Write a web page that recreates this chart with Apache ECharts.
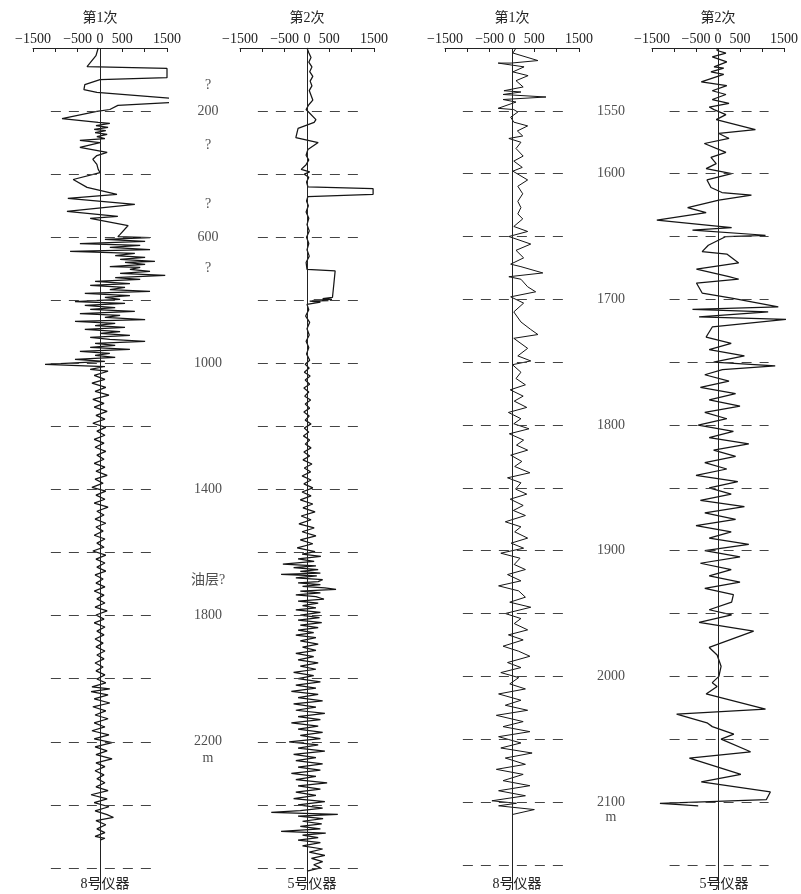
<!DOCTYPE html>
<html><head><meta charset="utf-8">
<script src="https://cdn.jsdelivr.net/npm/echarts@6/dist/echarts.min.js"></script>
<style>html,body{margin:0;padding:0;background:#fff}#c{width:801px;height:894px}</style>
</head><body><div id="c"></div>
<script>
// ---------------- data ----------------
const xTickValues = [-1500, -500, 0, 500, 1500];
const panelTitles = ['第1次', '第2次', '第1次', '第2次'];
const instrumentNames = ['8号仪器', '5号仪器', '8号仪器', '5号仪器'];
const leftDepthRange = [0, 2670];
const rightDepthRange = [1500, 2170];
const leftDashDepths = [200, 400, 600, 800, 1000, 1200, 1400, 1600, 1800, 2000, 2200, 2400, 2600];
const rightDashDepths = [1550, 1600, 1650, 1700, 1750, 1800, 1850, 1900, 1950, 2000, 2050, 2100, 2150];
const dashSpan = [-1100, 1150];
const leftDepthLabels = [[117, '?'], [200, '200'], [310, '?'], [497, '?'], [600, '600'], [698, '?'], [1000, '1000'], [1400, '1400'], [1687, '油层?'], [1800, '1800'], [2200, '2200'], [2252, 'm']];
const rightDepthLabels = [[1550, '1550'], [1600, '1600'], [1700, '1700'], [1800, '1800'], [1900, '1900'], [2000, '2000'], [2100, '2100'], [2112, 'm']];

// trace values: [value, depth]
const run1Instr8 = [[-40,0],[-90,24],[-290,59],[1500,65],[1500,94],[0,100],[-340,116],[-360,132],[-70,141],[1630,160],[1570,173],[400,182],[220,195],[-70,201],[-850,224],[-40,236],[220,239],[-90,246],[180,252],[-130,258],[130,262],[-110,268],[160,274],[-70,281],[110,287],[-450,293],[0,300],[-450,315],[160,331],[-70,341],[-160,353],[-70,369],[-40,385],[0,395],[-600,417],[-290,442],[380,464],[-720,477],[780,496],[-740,518],[400,534],[-220,540],[630,563],[450,591],[400,598],[1120,601],[110,607],[1010,613],[-450,620],[900,626],[220,632],[1120,639],[-670,645],[780,651],[340,658],[1010,664],[450,670],[1230,677],[560,680],[1010,686],[220,693],[900,696],[670,702],[1120,708],[450,715],[1460,721],[340,728],[900,734],[-110,740],[670,747],[-220,753],[560,759],[220,766],[1120,772],[-340,778],[670,785],[110,791],[450,797],[-560,804],[560,810],[-340,816],[340,823],[-220,829],[780,835],[-450,842],[450,848],[110,854],[1010,861],[-560,867],[340,873],[-110,880],[560,886],[-340,892],[450,899],[0,905],[670,911],[-220,918],[220,924],[1010,930],[-110,937],[340,943],[-220,949],[670,956],[-450,962],[220,968],[-110,975],[340,981],[-560,987],[110,994],[-1230,1003],[110,1010],[-220,1019],[180,1025],
[-130,1038],[110,1051],[-180,1063],[130,1076],[-110,1089],[200,1101],[-160,1114],[90,1127],[-130,1139],[160,1152],[-90,1165],[110,1177],[-160,1190],[130,1203],[-70,1215],[110,1228],[-130,1241],[90,1253],[-110,1266],[130,1279],[-70,1291],[90,1304],[-130,1317],[110,1329],[-90,1342],[160,1355],[-110,1367],[70,1380],[-180,1393],[130,1405],[-90,1418],[110,1431],[-130,1443],[180,1456],[-70,1469],[90,1481],[-110,1494],[130,1507],[-90,1519],[70,1532],[-130,1545],[110,1557],[-70,1570],[90,1583],[-160,1595],[130,1608],[-90,1621],[110,1633],[-70,1646],[130,1659],[-110,1671],[70,1684],[-90,1697],[110,1709],[-130,1722],[90,1735],[-70,1747],[110,1760],[-110,1773],[160,1785],[-90,1798],[90,1811],[-130,1823],[110,1836],[-70,1849],[90,1861],[-110,1874],[70,1887],[-90,1899],[110,1912],[-70,1925],[90,1937],[-110,1950],[70,1963],[-90,1975],[110,1988],[-70,2001],[130,2013],[-180,2026],[220,2032],[-200,2041],[180,2051],[-130,2064],[220,2077],[-160,2089],[130,2102],[-110,2115],[180,2127],[-130,2140],[110,2153],[-180,2165],[200,2178],[-130,2191],[270,2203],[-110,2216],[160,2229],[-90,2241],[270,2254],[-90,2267],[110,2279],[-110,2292],[90,2305],[-70,2317],[110,2330],[-90,2343],[180,2355],[-200,2368],[160,2381],[-130,2393],[200,2406],[-110,2419],[160,2431],[300,2440],[-90,2450],[130,2463],[-70,2476],[110,2488],[-110,2500],[110,2506],[0,2512]];

const run2Instr5 = [[0,0],[40,15],[90,30],[40,45],[110,60],[60,75],[130,90],[70,105],[110,120],[50,135],[90,150],[130,165],[40,180],[-20,195],[-20,201],[200,227],[160,236],[-200,255],[-250,284],[250,300],[20,322],[-20,340],[40,355],[-20,370],[-130,385],[60,393],[-60,400],[40,410],[-10,425],[20,440],[20,446],[1480,446],[1480,464],[20,471],[-10,485],[30,500],[-20,520],[40,540],[0,560],[50,580],[-10,600],[40,620],[0,640],[50,660],[-20,680],[0,702],[630,707],[600,750],[570,791],[350,795],[560,797],[150,799],[480,801],[60,803],[300,806],[0,813],
[40,830],[-30,850],[60,870],[0,890],[50,910],[-20,930],[40,950],[-10,970],[60,990],[-40,1003],[50,1015],[-60,1028],[70,1040],[-40,1053],[60,1066],[-70,1078],[40,1091],[-50,1104],[80,1116],[-40,1129],[60,1142],[-70,1154],[50,1167],[-40,1180],[90,1192],[-60,1205],[40,1218],[-80,1230],[60,1243],[-40,1256],[90,1268],[-70,1281],[60,1294],[-90,1306],[110,1319],[-60,1332],[80,1344],[-110,1357],[90,1370],[-70,1382],[130,1395],[-110,1408],[90,1420],[-150,1433],[130,1446],[-90,1458],[180,1471],[-130,1484],[90,1496],[-180,1509],[160,1522],[-110,1534],[200,1547],[-150,1560],[130,1572],[-220,1585],[180,1597],[-110,1605],[310,1612],[-200,1620],[160,1628],[-540,1637],[200,1642],[-300,1648],[250,1654],[-150,1660],[300,1665],[-580,1669],[220,1674],[-250,1680],[350,1686],[250,1692],[-200,1696],[300,1702],[-100,1707],[400,1712],[650,1717],[-150,1722],[300,1728],[-250,1734],[200,1740],[380,1748],[-200,1754],[250,1760],[-100,1768],[200,1775],[-250,1782],[300,1790],[-150,1798],[280,1806],[-200,1814],[330,1822],[-150,1830],[250,1838],[-200,1846],[150,1854],[-250,1862],[200,1870],[-150,1880],[250,1890],[-100,1900],[200,1910],[-250,1920],[150,1930],[-200,1940],[250,1950],[-150,1960],[200,1970],[-300,1980],[150,1990],[-200,2000],[300,2010],[-250,2020],[200,2030],[-350,2040],[250,2050],[-200,2060],[350,2070],[-300,2080],[200,2090],[-250,2100],[400,2110],[-200,2120],[300,2130],[-350,2140],[250,2150],[-200,2160],[350,2170],[-150,2180],[300,2190],[-400,2200],[250,2210],[-200,2220],[400,2230],[-300,2240],[200,2250],[-250,2260],[350,2270],[-200,2280],[300,2290],[-350,2300],[200,2310],[-250,2320],[450,2330],[-200,2340],[300,2350],[-250,2360],[200,2370],[-300,2380],[400,2390],[-200,2400],[350,2410],[-150,2418],[-800,2424],[690,2430],[-200,2436],[360,2444],[-100,2452],[330,2460],[-150,2468],[300,2476],[-580,2484],[420,2490],[-100,2496],[250,2504],[-200,2512],[300,2520],[-100,2530],[350,2540],[50,2550],[400,2560],[100,2570],[350,2580],[150,2590],[300,2600],[0,2610]];

const run1Instr8Deep = [[90,1500],[20,1504],[580,1510],[-20,1512],[-310,1512],[270,1515],[20,1519],[360,1522],[90,1526],[250,1531],[-180,1534],[200,1535],[-200,1537],[760,1539],[-200,1541],[90,1543],[-310,1548],[40,1549],[130,1551],[-30,1555],[40,1559],[350,1562],[120,1566],[240,1570],[-70,1572],[200,1575],[90,1580],[250,1586],[40,1590],[230,1595],[20,1598],[350,1605],[130,1610],[240,1616],[130,1622],[200,1627],[130,1632],[240,1636],[40,1642],[350,1646],[-70,1650],[420,1656],[90,1661],[260,1667],[-30,1672],[200,1674],[690,1679],[-70,1682],[200,1684],[350,1690],[530,1694],[-30,1698],[260,1703],[40,1710],[200,1718],[420,1724],[580,1728],[40,1731],[350,1739],[130,1745],[420,1749],[10,1752],[200,1758],[90,1763],
[300,1768],[-40,1772],[250,1777],[50,1781],[330,1786],[-80,1790],[200,1795],[40,1799],[380,1803],[-60,1807],[260,1812],[100,1816],[350,1820],[-30,1824],[220,1829],[60,1833],[400,1838],[-100,1842],[200,1846],[80,1851],[330,1855],[-40,1859],[250,1864],[30,1868],[300,1872],[-150,1877],[200,1881],[60,1885],[350,1890],[-20,1894],[260,1898],[-250,1902],[180,1906],[50,1911],[300,1915],[-100,1919],[200,1924],[-300,1928],[150,1932],[300,1937],[-50,1941],[420,1945],[-150,1950],[200,1954],[50,1958],[350,1963],[-80,1967],[250,1971],[-200,1976],[150,1980],[400,1984],[-100,1989],[200,1993],[-250,1997],[150,2001],[-50,2006],[300,2010],[-300,2014],[200,2019],[-150,2023],[350,2027],[-350,2031],[250,2036],[-200,2040],[400,2044],[-300,2048],[200,2053],[-250,2057],[450,2061],[-150,2065],[300,2070],[-350,2074],[250,2078],[-200,2083],[400,2087],[-300,2091],[300,2095],[-450,2099],[100,2101],[-300,2103],[500,2106],[0,2110]];

const run2Instr5Deep = [[-20,1500],[-20,1502],[180,1504],[-130,1507],[200,1511],[-90,1515],[130,1516],[-160,1519],[130,1521],[-380,1527],[200,1530],[-130,1534],[180,1537],[-130,1541],[250,1544],[-200,1547],[-90,1549],[180,1553],[-40,1557],[850,1565],[20,1568],[250,1572],[-310,1576],[180,1583],[-160,1587],[-40,1592],[-270,1596],[310,1600],[-250,1605],[-160,1611],[90,1615],[760,1617],[20,1621],[-690,1627],[-270,1631],[-1390,1637],[310,1643],[-580,1645],[1080,1649],[180,1650],[-220,1657],[-360,1662],[200,1664],[470,1671],[-490,1676],[250,1682],[470,1684],[-490,1687],[-360,1695],[310,1699],[1370,1706],[-580,1708],[1140,1710],[-430,1714],[1550,1716],[-130,1722],[-270,1730],
[300,1735],[-200,1740],[600,1745],[-100,1750],[1300,1753],[100,1756],[-300,1760],[250,1765],[-400,1770],[400,1775],[-200,1780],[500,1785],[-300,1790],[200,1795],[-450,1800],[350,1805],[-200,1810],[700,1815],[-100,1820],[400,1825],[-300,1830],[200,1835],[-500,1840],[450,1845],[-200,1850],[300,1855],[-400,1860],[600,1865],[-300,1870],[400,1875],[-500,1880],[300,1885],[-200,1890],[700,1895],[-300,1900],[500,1905],[-400,1910],[300,1915],[-200,1920],[500,1925],[-300,1930],[350,1935],
[310,1941],[-200,1947],[310,1951],[-430,1957],[810,1964],[-200,1977],[-20,1983],[70,1992],[20,2000],[-130,2005],[-20,2008],[-270,2014],[1080,2026],[-940,2030],[-250,2037],[-130,2040],[360,2046],[70,2050],[740,2060],[-650,2065],[520,2078],[-380,2084],[1190,2092],[1100,2098],[-1320,2101],[-870,2102],[-450,2103]];

const traces = [run1Instr8, run2Instr5, run1Instr8Deep, run2Instr5Deep];

// ---------------- layout ----------------
const panelLefts = [33, 240, 445, 652];
const panelWidth = 134;
const plotTop = 48, plotHeight = 842;
const serif = "'Liberation Serif','DejaVu Serif','Noto Sans CJK SC',serif";

const chart = echarts.init(document.getElementById('c'), null, {renderer: 'canvas'});
const grid = [], xAxis = [], yAxis = [], series = [], title = [];

for (let i = 0; i < 4; i++) {
  const isLeft = i < 2;
  const range = isLeft ? leftDepthRange : rightDepthRange;
  const dashDepths = isLeft ? leftDashDepths : rightDashDepths;
  grid.push({left: panelLefts[i], width: panelWidth, top: plotTop, height: plotHeight, containLabel: false});
  xAxis.push({
    type: 'value', gridIndex: i, position: 'top', min: -1500, max: 1500, interval: 500,
    name: panelTitles[i], nameLocation: 'middle', nameGap: 23,
    nameTextStyle: {fontFamily: serif, fontSize: 14, color: '#222'},
    axisLine: {show: true, lineStyle: {color: '#222', width: 1}},
    axisTick: {show: true, inside: true, length: 4, lineStyle: {color: '#222'}},
    axisLabel: {show: true, margin: 2, fontFamily: serif, fontSize: 14, color: '#222',
      showMinLabel: true, showMaxLabel: true,
      formatter: v => xTickValues.includes(v) ? String(v).replace('-', '\u2212') : ''},
    splitLine: {show: false}
  });
  yAxis.push({type: 'value', gridIndex: i, inverse: true, min: range[0], max: range[1], show: false});
  const marks = [{xAxis: 0, lineStyle: {type: 'solid', color: '#222', width: 1}}];
  dashDepths.forEach(d => marks.push([{coord: [dashSpan[0], d]}, {coord: [dashSpan[1], d]}]));
  series.push({
    type: 'line', xAxisIndex: i, yAxisIndex: i, data: traces[i], showSymbol: false, symbol: 'none',
    lineStyle: {color: '#151515', width: i === 2 ? 1 : 1.25}, silent: true, clip: false,
    markLine: {silent: true, symbol: ['none', 'none'], label: {show: false},
      lineStyle: {type: [10, 8], color: '#444', width: 1}, data: marks, animation: false}
  });
  title.push({text: instrumentNames[i], left: panelLefts[i] + panelWidth / 2, top: 872, textAlign: 'center',
    textStyle: {fontFamily: serif, fontSize: 14, fontWeight: 'normal', color: '#222'}});
}

// depth label columns
const labelCols = [{left: 178, range: leftDepthRange, labels: leftDepthLabels}, {left: 581, range: rightDepthRange, labels: rightDepthLabels}];
labelCols.forEach((c, k) => {
  const gi = 4 + k;
  grid.push({left: c.left, width: 60, top: plotTop, height: plotHeight});
  xAxis.push({type: 'value', gridIndex: gi, min: 0, max: 1, show: false});
  yAxis.push({type: 'value', gridIndex: gi, inverse: true, min: c.range[0], max: c.range[1], show: false});
  series.push({
    type: 'scatter', xAxisIndex: gi, yAxisIndex: gi, symbolSize: 1, itemStyle: {color: 'rgba(0,0,0,0)'},
    data: c.labels.map(l => [0.5, l[0], l[1]]), silent: true,
    label: {show: true, position: 'inside', formatter: p => p.data[2], fontFamily: serif, fontSize: 14, color: '#222'}
  });
});

chart.setOption({animation: false, backgroundColor: '#fff', title, grid, xAxis, yAxis, series});
</script></body></html>
